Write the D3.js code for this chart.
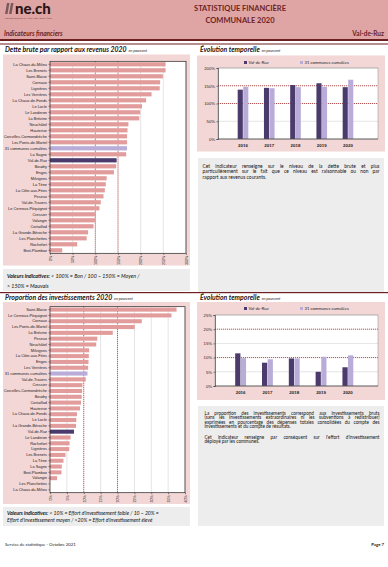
<!DOCTYPE html>
<html lang="fr">
<head>
<meta charset="UTF-8">
<title>Statistique financière communale 2020 - Val-de-Ruz</title>
<script src="https://cdn.jsdelivr.net/npm/d3@7"></script>
<style>
  body { margin: 0; background: #fff; font-family: Lato, "Open Sans", sans-serif; }
  svg { display: block; }
  .axis path, .axis line { stroke: #333; stroke-width: 0.6px; }
  .axis text { fill: #222; }
</style>
</head>
<body>
<svg id="page" width="388" height="567"></svg>
<script>
// Dette brute par rapport aux revenus 2020 (%)
const detteCommunes = ["La Chaux-du-Milieu", "Les Brenets", "Saint-Blaise", "Cornaux", "Lignières",
  "Les Verrières", "La Chaux-de-Fonds", "Le Locle", "Le Landeron", "La Brévine", "Neuchâtel",
  "Hauterive", "Corcelles-Cormondrèche", "Les Ponts-de-Martel", "31 communes cumulées", "La Sagne",
  "Val-de-Ruz", "Boudry", "Enges", "Milvignes", "La Tène", "La Côte-aux-Fées", "Peseux",
  "Val-de-Travers", "Le Cerneux-Péquignot", "Cressier", "Valangin", "Cortaillod",
  "La Grande-Béroche", "Les Planchettes", "Rochefort", "Brot-Plamboz"];
const detteValues = [255, 255, 249, 243, 242, 224, 212, 203, 199, 197, 173, 171, 170, 170, 170, 168,
  147, 146, 141, 125, 123, 121, 118, 112, 109, 101, 100, 96, 84, 81, 60, 27];

// Proportion des investissements 2020 (%)
const investCommunes = ["Saint-Blaise", "Le Cerneux-Péquignot", "Cornaux", "Les Ponts-de-Martel",
  "La Brévine", "Peseux", "Neuchâtel", "Milvignes", "La Côte-aux-Fées", "Enges", "Les Verrières",
  "31 communes cumulées", "Val-de-Travers", "Cressier", "Corcelles-Cormondrèche", "Boudry",
  "Cortaillod", "Hauterive", "La Chaux-de-Fonds", "Le Locle", "La Grande-Béroche", "Val-de-Ruz",
  "Le Landeron", "Rochefort", "Lignières", "Les Brenets", "La Tène", "La Sagne", "Brot-Plamboz",
  "Valangin", "Les Planchettes", "La Chaux-du-Milieu"];
const investValues = [37.5, 36.0, 27.2, 25.1, 18.6, 14.0, 13.7, 11.6, 11.5, 11.4, 11.3, 11.1, 10.6,
  9.6, 9.5, 9.4, 9.2, 8.9, 8.0, 7.8, 7.7, 7.1, 6.1, 5.8, 5.7, 4.6, 4.0, 3.5, 3.4, 2.1, 0, 0];

// Evolution temporelle
const years = ["2016", "2017", "2018", "2019", "2020"];
const detteVdr = [139, 144, 152, 157, 146];
const detteCumul = [147, 143, 146, 147, 167];
const investVdr = [11.5, 8.2, 9.7, 5.0, 6.6];
const investCumul = [9.8, 9.4, 9.7, 10.3, 10.8];

const texteDette = [
  "Cet indicateur renseigne sur le niveau de la dette brute et plus",
  "particulièrement sur le fait que ce niveau est raisonnable ou non par",
  "rapport aux revenus courants."
];
const texteInvest = [
  "La proportion des investissements correspond aux investissements bruts",
  "(sans les investissements extraordinaires ni les subventions à redistribuer)",
  "exprimées en pourcentage des dépenses totales consolidées du compte des",
  "investissements et du compte de résultats.",
  "",
  "Cet indicateur renseigne par conséquent sur l'effort d'investissement",
  "déployé par les communes."
];

const PINK = "#f3d6d6", HEAD = "#dfa5a5", MAROON = "#6e1f1f", BAR = "#e39c9c",
      VDR = "#4b3a6c", CUMUL = "#b9acd9", GREYBOX = "#ededed", THRESH = "#9a2a2a";

const svg = d3.select("#page");

// ---- header ----
svg.append("rect").attr("x", 0).attr("y", 0).attr("width", 388).attr("height", 39).attr("fill", HEAD);
svg.append("rect").attr("x", 0).attr("y", 39).attr("width", 388).attr("height", 2).attr("fill", MAROON);
svg.append("rect").attr("x", 0).attr("y", 43.5).attr("width", 388).attr("height", 1).attr("fill", MAROON);

const logo = svg.append("g").attr("transform", "translate(5,3)");
[0, 4].forEach(dx => logo.append("path")
  .attr("d", `M${dx + 2},0 L${dx + 4.5},0 L${dx + 2.5},11 L${dx},11 Z`).attr("fill", "#7a5a5a"));
logo.append("text").attr("x", 10).attr("y", 11).text("ne.ch")
  .style("font-size", "15px").style("font-weight", "900").attr("fill", "#2a1515");
logo.append("text").attr("x", 0).attr("y", 16).text("RÉPUBLIQUE ET CANTON DE NEUCHÂTEL")
  .style("font-size", "2.4px").attr("fill", "#6a4a4a");

svg.append("text").attr("x", 240).attr("y", 11).attr("text-anchor", "middle")
  .text("STATISTIQUE FINANCIÈRE").style("font-size", "7.5px").style("font-weight", "700").attr("fill", MAROON);
svg.append("text").attr("x", 240).attr("y", 23).attr("text-anchor", "middle")
  .text("COMMUNALE 2020").style("font-size", "7.5px").style("font-weight", "700").attr("fill", MAROON);
svg.append("text").attr("x", 4).attr("y", 36).text("Indicateurs financiers")
  .style("font-size", "6.5px").style("font-weight", "700").style("font-style", "italic").attr("fill", MAROON);
svg.append("text").attr("x", 384).attr("y", 36).attr("text-anchor", "end").text("Val-de-Ruz")
  .style("font-size", "6.5px").style("font-weight", "700").attr("fill", MAROON);

// ---- helpers ----
function sectionTitle(x, y, main, sub) {
  const t = svg.append("text").attr("x", x).attr("y", y).attr("fill", "#1e1414");
  t.append("tspan").text(main).style("font-size", "6.9px").style("font-weight", "700").style("font-style", "italic");
  t.append("tspan").text(" " + sub).style("font-size", "3.8px").style("font-style", "italic").attr("dx", 1);
}

function ranking(names, values, o) {
  svg.append("rect").attr("x", 3).attr("y", o.boxTop).attr("width", 187).attr("height", o.boxH).attr("fill", PINK);
  const g = svg.append("g");
  const x = d3.scaleLinear().domain([0, o.max]).range([50, o.right]);
  const y = d3.scaleBand().domain(names).range([o.top, o.bottom]).paddingInner(0.3).paddingOuter(0.15);
  g.append("rect").attr("x", 50).attr("y", o.top).attr("width", o.right - 50)
    .attr("height", o.bottom - o.top).attr("fill", "#fff");
  const ticks = d3.range(0, o.max + 0.001, o.step);
  g.selectAll(".grid").data(ticks.slice(1)).join("line")
    .attr("x1", d => x(d)).attr("x2", d => x(d)).attr("y1", o.top).attr("y2", o.bottom)
    .attr("stroke", d => o.thresholds.includes(d) ? THRESH : "#c8c8c8")
    .attr("stroke-width", d => o.thresholds.includes(d) ? 0.8 : 0.5)
    .attr("stroke-dasharray", d => o.thresholds.includes(d) ? "1.2,0.8" : null);
  g.selectAll(".bar").data(names).join("rect")
    .attr("x", 50).attr("y", d => y(d))
    .attr("width", (d, i) => x(values[i]) - 50).attr("height", y.bandwidth())
    .attr("fill", d => d === "Val-de-Ruz" ? VDR : d === "31 communes cumulées" ? CUMUL : BAR);
  g.append("rect").attr("x", 50).attr("y", o.top).attr("width", o.right - 50)
    .attr("height", o.bottom - o.top).attr("fill", "none").attr("stroke", "#222").attr("stroke-width", 0.7);
  const ya = g.append("g").attr("class", "axis").attr("transform", "translate(50,0)")
    .call(d3.axisLeft(y).tickSize(1.5).tickPadding(1.5));
  ya.select(".domain").remove();
  ya.selectAll("text").style("font-size", "3.9px");
  const xa = g.append("g").attr("class", "axis").attr("transform", `translate(0,${o.bottom})`)
    .call(d3.axisBottom(x).tickValues(ticks).tickFormat(d => d + "%").tickSize(1.5).tickPadding(1));
  xa.select(".domain").remove();
  xa.selectAll("text").style("font-size", "3.6px").attr("text-anchor", "end")
    .attr("transform", "rotate(-90)").attr("x", -2.5).attr("y", 0).attr("dy", "0.35em");
  // valeurs indicatives
  svg.append("rect").attr("x", 3).attr("y", o.noteTop).attr("width", 187).attr("height", o.noteH).attr("fill", GREYBOX);
  o.note.forEach((line, i) => {
    const t = svg.append("text").attr("x", 7).attr("y", o.noteTop + o.noteY0 + i * o.noteDy)
      .style("font-size", o.noteSize + "px").attr("fill", "#111");
    line.forEach(part => t.append("tspan").text(part.t)
      .style("font-weight", part.b ? "700" : "400").style("font-style", "italic"));
  });
}

function evolution(vdr, cumul, o) {
  svg.append("rect").attr("x", 197).attr("y", o.boxTop).attr("width", 188).attr("height", o.boxH).attr("fill", PINK);
  const g = svg.append("g");
  const x0 = d3.scaleBand().domain(years).range([o.bandL, o.bandR]).paddingInner(0.58).paddingOuter(0);
  const x1 = d3.scaleBand().domain(["vdr", "cumul"]).range([0, x0.bandwidth()]).padding(0);
  const y = d3.scaleLinear().domain([0, o.max]).range([o.bottom, o.top]);
  g.append("rect").attr("x", o.left).attr("y", o.top).attr("width", o.right - o.left)
    .attr("height", o.bottom - o.top).attr("fill", "#fff");
  const ticks = d3.range(0, o.max + 0.001, o.step);
  g.selectAll(".grid").data(ticks.slice(1)).join("line")
    .attr("x1", o.left).attr("x2", o.right).attr("y1", d => y(d)).attr("y2", d => y(d))
    .attr("stroke", d => o.thresholds.includes(d) ? THRESH : "#c8c8c8")
    .attr("stroke-width", d => o.thresholds.includes(d) ? 0.8 : 0.5)
    .attr("stroke-dasharray", d => o.thresholds.includes(d) ? "1.2,0.8" : null);
  const rows = years.map((yr, i) => ({ yr, vdr: vdr[i], cumul: cumul[i] }));
  const grp = g.selectAll(".yr").data(rows).join("g").attr("transform", d => `translate(${x0(d.yr)},0)`);
  grp.selectAll("rect").data(d => [["vdr", d.vdr], ["cumul", d.cumul]]).join("rect")
    .attr("x", d => x1(d[0]) + 0.2).attr("width", x1.bandwidth() - 0.4)
    .attr("y", d => y(d[1])).attr("height", d => o.bottom - y(d[1]))
    .attr("fill", d => d[0] === "vdr" ? VDR : CUMUL);
  g.append("rect").attr("x", o.left).attr("y", o.top).attr("width", o.right - o.left)
    .attr("height", o.bottom - o.top).attr("fill", "none").attr("stroke", "#888").attr("stroke-width", 0.5);
  const ya = g.append("g").attr("class", "axis").attr("transform", `translate(${o.left},0)`)
    .call(d3.axisLeft(y).tickValues(ticks).tickFormat(d => d + "%").tickSize(1.5).tickPadding(1.5));
  ya.selectAll("text").style("font-size", "4.2px");
  const xa = g.append("g").attr("class", "axis").attr("transform", `translate(0,${o.bottom})`)
    .call(d3.axisBottom(x0).tickSize(0).tickPadding(5));
  xa.select(".domain").attr("d", `M${o.left},0H${o.right}`);
  xa.selectAll("text").style("font-size", "4.4px").style("font-weight", "700");
  // legend
  const lg = svg.append("g").attr("transform", `translate(0,${o.legendY})`);
  [["Val-de-Ruz", VDR, 244], ["31 communes cumulées", CUMUL, 300]].forEach(([lab, c, lx]) => {
    lg.append("rect").attr("x", lx).attr("y", -2).attr("width", 3).attr("height", 3).attr("fill", c);
    lg.append("text").attr("x", lx + 4.5).attr("y", 0).attr("dy", "0.35em").text(lab)
      .style("font-size", "4.2px").attr("fill", "#222");
  });
}

// justified paragraph: words spread between x0 and x1, last line of each block left aligned
function paragraph(lines, o) {
  svg.append("rect").attr("x", 198).attr("y", o.top).attr("width", 186).attr("height", o.h).attr("fill", GREYBOX);
  let yy = o.top + o.y0;
  lines.forEach((line, i) => {
    if (!line) { yy += o.gap; return; }
    const t = svg.append("text").attr("y", yy).style("font-size", o.size + "px").attr("fill", "#111");
    const words = line.split(" ");
    const spans = words.map(w => t.append("tspan").attr("y", yy).text(w));
    const widths = spans.map(s => s.node().getComputedTextLength());
    const last = i === lines.length - 1 || !lines[i + 1];
    const total = d3.sum(widths);
    const gap = last ? o.size * 0.25 : (o.x1 - o.x0 - total) / (words.length - 1);
    let cx = o.x0;
    spans.forEach((s, k) => { s.attr("x", cx); cx += widths[k] + gap; });
    yy += o.dy;
  });
}

// ---- section 1 : dette brute ----
sectionTitle(5, 52, "Dette brute par rapport aux revenus 2020", "en pourcent");
sectionTitle(200, 52, "Évolution temporelle", "en pourcent");
ranking(detteCommunes, detteValues, {
  boxTop: 54.5, boxH: 211, top: 61.3, bottom: 253.3, right: 186, max: 300, step: 50,
  thresholds: [100, 150], noteTop: 269, noteH: 22, noteY0: 8.5, noteDy: 10, noteSize: 5.3,
  note: [[{ t: "Valeurs indicatives: ", b: true }, { t: "< 100% = Bon / 100 – 150% = Moyen /" }],
         [{ t: "> 150% = Mauvais" }]]
});
evolution(detteVdr, detteCumul, {
  boxTop: 55.5, boxH: 96, legendY: 63, left: 218, right: 378, top: 68, bottom: 139,
  bandL: 237.5, bandR: 353.5, max: 200, step: 50, thresholds: [100, 150]
});
paragraph(texteDette, { top: 158, h: 134, x0: 202.5, x1: 379.5, y0: 10, dy: 5.3, gap: 5.3, size: 4.9 });

// ---- section 2 : investissements ----
svg.append("rect").attr("x", 0).attr("y", 292).attr("width", 388).attr("height", 1.2).attr("fill", MAROON);
sectionTitle(5, 300, "Proportion des investissements 2020", "en pourcent");
sectionTitle(200, 300, "Évolution temporelle", "en pourcent");
ranking(investCommunes, investValues, {
  boxTop: 302, boxH: 202, top: 306.7, bottom: 492.7, right: 185, max: 40, step: 5,
  thresholds: [10, 20], noteTop: 507, noteH: 19, noteY0: 7.5, noteDy: 7, noteSize: 5.1,
  note: [[{ t: "Valeurs indicatives: ", b: true }, { t: "< 10% = Effort d'investissement faible / 10 – 20% =" }],
         [{ t: "Effort d'investissement moyen / >20% = Effort d'investissement élevé" }]]
});
evolution(investVdr, investCumul, {
  boxTop: 302, boxH: 98, legendY: 309, left: 215, right: 378, top: 315, bottom: 386,
  bandL: 235, bandR: 353.5, max: 25, step: 5, thresholds: [10, 20]
});
paragraph(texteInvest, { top: 406, h: 120, x0: 204.5, x1: 379.5, y0: 8.5, dy: 4.5, gap: 6, size: 4.65 });

// ---- footer ----
svg.append("text").attr("x", 5).attr("y", 546).text("Service de statistique - Octobre 2021")
  .style("font-size", "4.3px").attr("fill", "#222");
svg.append("text").attr("x", 384).attr("y", 546).attr("text-anchor", "end").text("Page 7")
  .style("font-size", "4.3px").style("font-weight", "700").attr("fill", "#222");
</script>
</body>
</html>
